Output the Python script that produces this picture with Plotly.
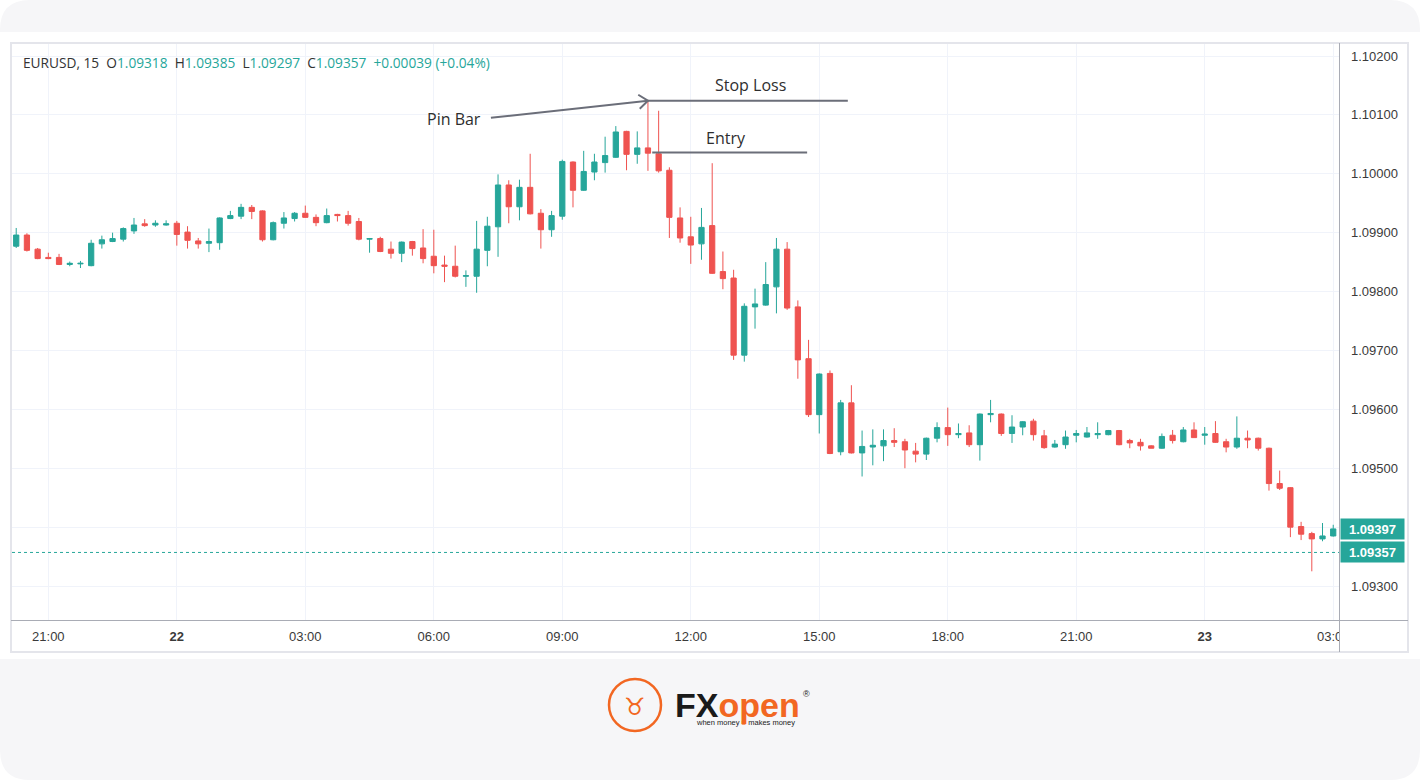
import plotly.graph_objects as go
import pandas as pd

# ---------------- data ----------------
opens = [1.09877, 1.09896, 1.09872, 1.09858, 1.09858, 1.09846, 1.09847, 1.09844, 1.09881, 1.09885,
         1.09889, 1.09903, 1.09915, 1.09913, 1.09913, 1.09916, 1.09901, 1.09886, 1.09882, 1.09883,
         1.09924, 1.09928, 1.09943, 1.09937, 1.09888, 1.09916, 1.09924, 1.09933, 1.09926, 1.09917,
         1.09931, 1.09929, 1.09919, 1.09889, 1.09890, 1.09872, 1.09865, 1.09885, 1.09874, 1.09860,
         1.09845, 1.09843, 1.09826, 1.09826, 1.09870, 1.09910, 1.09981, 1.09944, 1.09977, 1.09933,
         1.09905, 1.09928, 1.10020, 1.09972, 1.10003, 1.10019, 1.10028, 1.10072, 1.10033, 1.10044,
         1.10034, 1.10006, 1.09925, 1.09893, 1.09881, 1.09912, 1.09834, 1.09823, 1.09692, 1.09774,
         1.09777, 1.09808, 1.09872, 1.09774, 1.09686, 1.09591, 1.09661, 1.09528, 1.09611, 1.09526,
         1.09536, 1.09538, 1.09547, 1.09545, 1.09529, 1.09524, 1.09551, 1.09569, 1.09557, 1.09560,
         1.09540, 1.09591, 1.09592, 1.09559, 1.09570, 1.09580, 1.09555, 1.09536, 1.09540, 1.09556,
         1.09553, 1.09557, 1.09557, 1.09564, 1.09547, 1.09544, 1.09538, 1.09534, 1.09556, 1.09545,
         1.09565, 1.09556, 1.09559, 1.09545, 1.09536, 1.09551, 1.09551, 1.09534, 1.09474, 1.09467,
         1.09401, 1.09389, 1.09380, 1.09385]
highs = [1.09908, 1.09899, 1.09874, 1.09866, 1.09864, 1.09851, 1.09852, 1.09888, 1.09895, 1.09900,
         1.09909, 1.09925, 1.09923, 1.09921, 1.09921, 1.09920, 1.09911, 1.09891, 1.09907, 1.09926,
         1.09937, 1.09949, 1.09947, 1.09938, 1.09919, 1.09935, 1.09935, 1.09946, 1.09931, 1.09941,
         1.09932, 1.09937, 1.09925, 1.09891, 1.09893, 1.09885, 1.09885, 1.09886, 1.09906, 1.09905,
         1.09861, 1.09878, 1.09836, 1.09920, 1.09927, 1.09999, 1.09989, 1.09990, 1.10034, 1.09940,
         1.09937, 1.10024, 1.10021, 1.10039, 1.10034, 1.10063, 1.10081, 1.10073, 1.10072, 1.10124,
         1.10107, 1.10011, 1.09943, 1.09927, 1.09942, 1.10018, 1.09868, 1.09837, 1.09780, 1.09805,
         1.09850, 1.09891, 1.09884, 1.09785, 1.09718, 1.09661, 1.09666, 1.09616, 1.09641, 1.09564,
         1.09566, 1.09566, 1.09568, 1.09550, 1.09543, 1.09552, 1.09578, 1.09603, 1.09576, 1.09573,
         1.09593, 1.09616, 1.09593, 1.09590, 1.09580, 1.09584, 1.09565, 1.09548, 1.09564, 1.09565,
         1.09570, 1.09578, 1.09565, 1.09565, 1.09550, 1.09550, 1.09539, 1.09559, 1.09565, 1.09570,
         1.09578, 1.09570, 1.09580, 1.09550, 1.09588, 1.09564, 1.09552, 1.09535, 1.09496, 1.09468,
         1.09409, 1.09392, 1.09407, 1.09404]
lows = [1.09874, 1.09868, 1.09855, 1.09855, 1.09845, 1.09843, 1.09840, 1.09843, 1.09873, 1.09884,
        1.09885, 1.09898, 1.09910, 1.09910, 1.09912, 1.09878, 1.09873, 1.09873, 1.09867, 1.09871,
        1.09923, 1.09923, 1.09923, 1.09885, 1.09887, 1.09907, 1.09919, 1.09925, 1.09911, 1.09916,
        1.09919, 1.09912, 1.09887, 1.09866, 1.09867, 1.09856, 1.09850, 1.09861, 1.09848, 1.09831,
        1.09816, 1.09824, 1.09808, 1.09798, 1.09843, 1.09859, 1.09916, 1.09921, 1.09931, 1.09873,
        1.09893, 1.09922, 1.09943, 1.09971, 1.09989, 1.10002, 1.10027, 1.10006, 1.10017, 1.10005,
        1.10002, 1.09891, 1.09883, 1.09847, 1.09854, 1.09830, 1.09804, 1.09684, 1.09681, 1.09737,
        1.09776, 1.09763, 1.09769, 1.09652, 1.09587, 1.09559, 1.09524, 1.09522, 1.09525, 1.09486,
        1.09505, 1.09512, 1.09536, 1.09500, 1.09510, 1.09514, 1.09544, 1.09538, 1.09551, 1.09536,
        1.09513, 1.09578, 1.09555, 1.09543, 1.09556, 1.09547, 1.09533, 1.09535, 1.09533, 1.09544,
        1.09552, 1.09550, 1.09556, 1.09539, 1.09534, 1.09530, 1.09534, 1.09533, 1.09542, 1.09544,
        1.09552, 1.09540, 1.09543, 1.09527, 1.09533, 1.09534, 1.09530, 1.09462, 1.09463, 1.09383,
        1.09378, 1.09325, 1.09376, 1.09384]
closes = [1.09896, 1.09870, 1.09856, 1.09856, 1.09846, 1.09848, 1.09848, 1.09882, 1.09888, 1.09890,
          1.09907, 1.09913, 1.09912, 1.09916, 1.09915, 1.09897, 1.09887, 1.09881, 1.09885, 1.09925,
          1.09929, 1.09943, 1.09936, 1.09888, 1.09917, 1.09925, 1.09933, 1.09926, 1.09917, 1.09929,
          1.09929, 1.09916, 1.09889, 1.09890, 1.09868, 1.09865, 1.09884, 1.09873, 1.09856, 1.09844,
          1.09843, 1.09826, 1.09827, 1.09872, 1.09911, 1.09981, 1.09944, 1.09977, 1.09932, 1.09905,
          1.09929, 1.10021, 1.09972, 1.10004, 1.10020, 1.10031, 1.10071, 1.10033, 1.10044, 1.10035,
          1.10005, 1.09926, 1.09891, 1.09879, 1.09909, 1.09831, 1.09822, 1.09692, 1.09775, 1.09779,
          1.09812, 1.09872, 1.09772, 1.09684, 1.09591, 1.09660, 1.09525, 1.09611, 1.09526, 1.09537,
          1.09539, 1.09547, 1.09544, 1.09531, 1.09524, 1.09551, 1.09569, 1.09557, 1.09559, 1.09540,
          1.09592, 1.09593, 1.09559, 1.09570, 1.09579, 1.09557, 1.09535, 1.09541, 1.09553, 1.09559,
          1.09560, 1.09559, 1.09564, 1.09540, 1.09543, 1.09538, 1.09534, 1.09554, 1.09547, 1.09565,
          1.09552, 1.09558, 1.09544, 1.09536, 1.09551, 1.09548, 1.09534, 1.09474, 1.09466, 1.09400,
          1.09388, 1.09380, 1.09385, 1.09397]
times = pd.date_range("2023-11-21 20:15", periods=len(opens), freq="15min")

time_tick_vals = ["2023-11-21 21:00", "2023-11-22 00:00", "2023-11-22 03:00", "2023-11-22 06:00",
                  "2023-11-22 09:00", "2023-11-22 12:00", "2023-11-22 15:00", "2023-11-22 18:00",
                  "2023-11-22 21:00", "2023-11-23 00:00", "2023-11-23 03:00"]
time_tick_text = ["21:00", "<b>22</b>", "03:00", "06:00", "09:00", "12:00", "15:00", "18:00",
                  "21:00", "<b>23</b>", "03:00"]
price_tick_vals = [1.093, 1.094, 1.095, 1.096, 1.097, 1.098, 1.099, 1.100, 1.101, 1.102]
price_tick_text = ["1.09300", "1.09400", "1.09500", "1.09600", "1.09700", "1.09800",
                   "1.09900", "1.10000", "1.10100", "1.10200"]

symbol_label = "EURUSD, 15"
header_ohlc = [("O", "1.09318"), ("H", "1.09385"), ("L", "1.09297"), ("C", "1.09357")]
header_change = "+0.00039 (+0.04%)"
last_price = 1.09397
dotted_price = 1.09357

pin_bar_index = 59
stop_loss = highs[pin_bar_index]
entry = 1.10036
pin_label_pos = ("2023-11-22 06:28", 1.10093)
pin_arrow_start = ("2023-11-22 07:20", 1.10095)
stop_label_pos = ("2023-11-22 13:23", 1.10150)
stop_line_end = "2023-11-22 15:40"
entry_label_pos = ("2023-11-22 12:49", 1.10060)
entry_line = ("2023-11-22 11:06", "2023-11-22 14:43")

# ---------------- style ----------------
UP = "#26a69a"
DOWN = "#ef5350"
GRID = "#f0f3fa"
AXIS_LINE = "#a9acb5"
FRAME = "#e4e5eb"
BAND = "#f6f6f8"
TEXT = "#3a3a3a"
ANNOT = "#6b6e79"
ORANGE = "#f26722"

W, H = 1420, 780
L, R, T, B = 12, 81, 44, 160
PW, PH = W - L - R, H - T - B


def fx(px):
    return (px - L) / PW


def fy(py):
    return (H - B - py) / PH


def ppath(cmds):
    out = []
    for c in cmds:
        if isinstance(c, str):
            out.append(c)
        else:
            out.append(f"{fx(c[0]):.5f},{fy(c[1]):.5f}")
    return " ".join(out)


fig = go.Figure()
fig.add_trace(go.Candlestick(
    x=times, open=opens, high=highs, low=lows, close=closes,
    increasing=dict(line=dict(color=UP, width=1), fillcolor=UP),
    decreasing=dict(line=dict(color=DOWN, width=1), fillcolor=DOWN),
    whiskerwidth=0, hoverinfo="skip", showlegend=False,
))

shapes = []
shapes.append(dict(type="path", xref="paper", yref="paper", layer="below",
                   path=ppath(["M", (0, 32), "L", (0, 30), "Q", (0, 0), (30, 0), "L", (1390, 0),
                               "Q", (1420, 0), (1420, 30), "L", (1420, 32), "Z"]),
                   fillcolor=BAND, line=dict(width=0)))
shapes.append(dict(type="path", xref="paper", yref="paper", layer="below",
                   path=ppath(["M", (0, 659), "L", (1420, 659), "L", (1420, 750),
                               "Q", (1420, 780), (1390, 780), "L", (30, 780),
                               "Q", (0, 780), (0, 750), "Z"]),
                   fillcolor=BAND, line=dict(width=0)))
shapes.append(dict(type="rect", xref="paper", yref="paper", layer="above",
                   x0=fx(1340), x1=fx(1407), y0=fy(651), y1=fy(621),
                   fillcolor="white", line=dict(width=0)))
shapes.append(dict(type="rect", xref="paper", yref="paper", layer="above",
                   x0=fx(11), x1=fx(1408), y0=fy(652), y1=fy(43),
                   line=dict(color=FRAME, width=2)))
shapes.append(dict(type="line", xref="paper", yref="paper", layer="above",
                   x0=fx(11), x1=fx(1408), y0=fy(620.5), y1=fy(620.5),
                   line=dict(color=AXIS_LINE, width=1)))
shapes.append(dict(type="line", xref="paper", yref="paper", layer="above",
                   x0=fx(1339.5), x1=fx(1339.5), y0=fy(652), y1=fy(43),
                   line=dict(color=AXIS_LINE, width=1)))
shapes.append(dict(type="line", xref="paper", yref="y", layer="above",
                   x0=0, x1=1, y0=dotted_price, y1=dotted_price,
                   line=dict(color=UP, width=1, dash="dot")))
pin_time = times[pin_bar_index]
shapes.append(dict(type="line", xref="x", yref="y", layer="above",
                   x0=pin_time, x1=stop_line_end, y0=stop_loss, y1=stop_loss,
                   line=dict(color=ANNOT, width=2)))
shapes.append(dict(type="line", xref="x", yref="y", layer="above",
                   x0=entry_line[0], x1=entry_line[1], y0=entry, y1=entry,
                   line=dict(color=ANNOT, width=2)))
shapes.append(dict(type="line", xref="x", yref="y", layer="above",
                   x0=pin_arrow_start[0], y0=pin_arrow_start[1], x1=pin_time, y1=stop_loss,
                   line=dict(color=ANNOT, width=2)))
shapes.append(dict(type="path", xref="x", yref="y", layer="above",
                   xsizemode="pixel", ysizemode="pixel", xanchor=pin_time, yanchor=stop_loss,
                   path="M -9.7,6 L 0,0 L -8.2,-8",
                   line=dict(color=ANNOT, width=2)))
shapes.append(dict(type="circle", xref="paper", yref="paper", layer="above",
                   x0=fx(609), x1=fx(661), y0=fy(731), y1=fy(679),
                   line=dict(color=ORANGE, width=2.5)))

annotations = []
hdr = symbol_label
for k, v in header_ohlc:
    hdr += "\u00a0\u00a0" + k + f"<span style='color:{UP}'>{v}</span>"
hdr += "\u00a0\u00a0" + f"<span style='color:{UP}'>{header_change}</span>"
annotations.append(dict(xref="paper", yref="paper", x=fx(21), y=fy(62), xanchor="left",
                        yanchor="middle", text=hdr, showarrow=False,
                        font=dict(family="Open Sans", size=13.7, color="#333333")))
for pos, label in ((pin_label_pos, "Pin Bar"), (stop_label_pos, "Stop Loss"),
                   (entry_label_pos, "Entry")):
    annotations.append(dict(xref="x", yref="y", x=pos[0], y=pos[1], xanchor="center",
                            yanchor="middle", text=label, showarrow=False,
                            font=dict(family="Open Sans", size=16, color="#2e2e2e")))
for price in (last_price, dotted_price):
    annotations.append(dict(xref="paper", yref="y", x=1, y=price, xanchor="left",
                            yanchor="middle", xshift=0.5,
                            text=f"<b>{price:.5f}</b>", showarrow=False,
                            bgcolor=UP, borderpad=2, width=59, height=16,
                            font=dict(family="Liberation Sans", size=13, color="white")))
# logo
annotations.append(dict(xref="paper", yref="paper", x=fx(635), y=fy(707),
                        xanchor="center", yanchor="middle",
                        text="\u2649", showarrow=False,
                        font=dict(family="DejaVu Sans", size=24, color=ORANGE)))
annotations.append(dict(xref="paper", yref="paper", x=fx(673), y=fy(705), xanchor="left",
                        yanchor="middle",
                        text=f"<b>FX<span style='color:{ORANGE}'>open</span></b>",
                        showarrow=False,
                        font=dict(family="Liberation Sans", size=34, color="#1a1a1a")))
annotations.append(dict(xref="paper", yref="paper", x=fx(806), y=fy(694),
                        xanchor="center", yanchor="middle",
                        text="\u00ae", showarrow=False,
                        font=dict(family="Liberation Sans", size=9, color="#1a1a1a")))
annotations.append(dict(xref="paper", yref="paper", x=fx(745), y=fy(722),
                        xanchor="center", yanchor="middle",
                        text=f"when money <span style='color:{ORANGE}'>\u25a0</span> makes money",
                        showarrow=False,
                        font=dict(family="Liberation Sans", size=7.5, color="#1a1a1a")))

x_range = [pd.Timestamp("2023-11-21 20:09:06"), pd.Timestamp("2023-11-23 03:08:06")]

fig.update_layout(
    width=W, height=H,
    margin=dict(l=L, r=R, t=T, b=B, pad=0),
    paper_bgcolor="white", plot_bgcolor="white",
    showlegend=False,
    hovermode=False,
    shapes=shapes,
    annotations=annotations,
    xaxis=dict(
        type="date", range=x_range, rangeslider=dict(visible=False),
        tickmode="array", tickvals=time_tick_vals, ticktext=time_tick_text,
        showgrid=True, gridcolor=GRID, gridwidth=1,
        zeroline=False, showline=False, ticks="",
        ticklabelstandoff=7,
        tickfont=dict(family="Liberation Sans", size=13, color=TEXT),
        fixedrange=True,
    ),
    yaxis=dict(
        side="right", range=[1.092423, 1.102204],
        tickmode="array", tickvals=price_tick_vals, ticktext=price_tick_text,
        showgrid=True, gridcolor=GRID, gridwidth=1,
        zeroline=False, showline=False, ticks="",
        ticklabelstandoff=11,
        tickfont=dict(family="Liberation Sans", size=13, color=TEXT),
        fixedrange=True,
    ),
)

fig.write_html("out.html", config=dict(displayModeBar=False, staticPlot=True),
               post_script="document.body.style.margin='0';document.body.style.overflow='hidden';")
